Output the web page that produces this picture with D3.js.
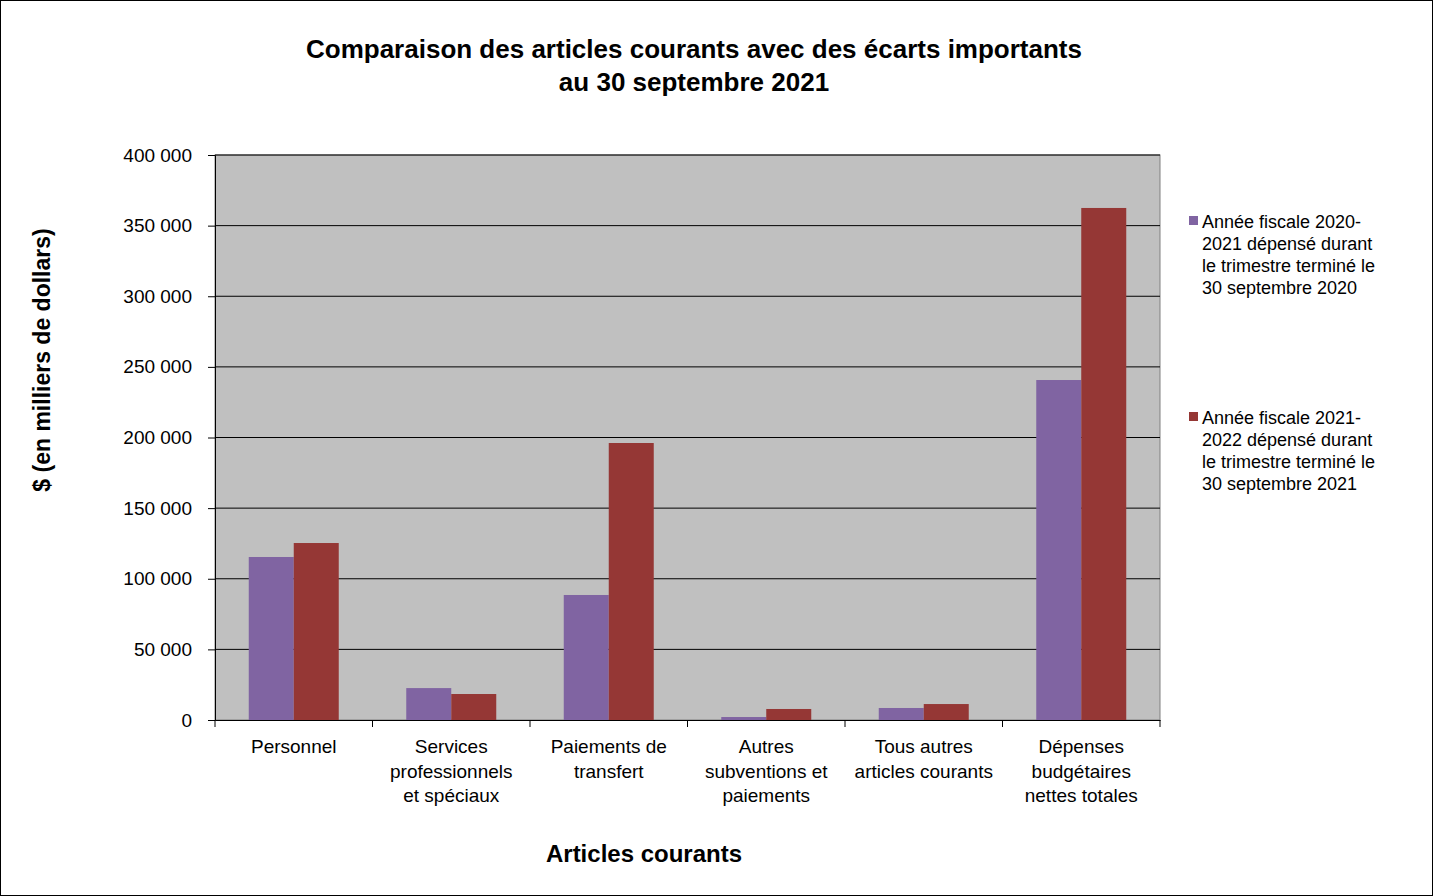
<!DOCTYPE html><html><head><meta charset="utf-8">
<script src="https://cdn.jsdelivr.net/npm/d3@7"></script>
<style>body{margin:0;background:#fff}svg{font-family:Arial,"Liberation Sans",sans-serif}</style></head><body>
<script>
const categories=[["Personnel"],["Services","professionnels","et spéciaux"],["Paiements de","transfert"],["Autres","subventions et","paiements"],["Tous autres","articles courants"],["Dépenses","budgétaires","nettes totales"]];
const series2020=[115400,22600,88500,2100,8500,240700];
const series2021=[125300,18400,196100,7800,11300,362500];
const seriesNames=[["Année fiscale 2020-","2021 dépensé durant","le trimestre terminé le","30 septembre 2020"],["Année fiscale 2021-","2022 dépensé durant","le trimestre terminé le","30 septembre 2021"]];
const yTicks=[0,50000,100000,150000,200000,250000,300000,350000,400000];
const colors=["#8064a2","#953735"];
const W=1433,H=896,L=215,R=1160,T=155,B=720;
const svg=d3.select("body").append("svg").attr("width",W).attr("height",H);
svg.append("rect").attr("x",0.5).attr("y",0.5).attr("width",W-1).attr("height",H-1).attr("fill","#fff").attr("stroke","#000");
svg.append("text").attr("x",694).attr("y",58).attr("text-anchor","middle").attr("font-size",26).attr("font-weight","bold").text("Comparaison des articles courants avec des écarts importants");
svg.append("text").attr("x",694).attr("y",91).attr("text-anchor","middle").attr("font-size",26).attr("font-weight","bold").text("au 30 septembre 2021");
const x=d3.scaleBand().domain(d3.range(6)).range([L,R]).paddingInner(0).paddingOuter(0);
const y=d3.scaleLinear().domain([0,400000]).range([B,T]);
svg.append("rect").attr("x",L).attr("y",T).attr("width",R-L).attr("height",B-T).attr("fill","#c0c0c0").attr("stroke","#808080");
svg.append("g").selectAll("line").data(yTicks.slice(1)).join("line").attr("x1",L).attr("x2",R).attr("y1",d=>y(d)).attr("y2",d=>y(d)).attr("stroke","#000");
const fmt=d=>d3.format(",")(d).replace(/,/g," ");
const ya=svg.append("g").attr("transform",`translate(${L},0)`).call(d3.axisLeft(y).tickValues(yTicks).tickSize(7).tickPadding(16).tickFormat(fmt));
ya.selectAll("text").attr("font-size",19).attr("font-family","Arial,'Liberation Sans',sans-serif").attr("fill","#000");
ya.select(".domain").attr("stroke","#000");
const bw=45;
[series2020,series2021].forEach((s,i)=>{
 svg.append("g").selectAll("rect").data(s).join("rect")
  .attr("x",(d,j)=>x(j)+x.bandwidth()/2-bw+i*bw).attr("width",bw)
  .attr("y",d=>y(d)).attr("height",d=>B-y(d)).attr("fill",colors[i]);
});
const xa=svg.append("g").attr("transform",`translate(0,${B})`).call(d3.axisBottom(x).tickSize(0).tickFormat(""));
xa.select(".domain").attr("stroke","#000");
svg.append("g").selectAll("line").data(d3.range(7)).join("line").attr("x1",d=>L+d*x.bandwidth()).attr("x2",d=>L+d*x.bandwidth()).attr("y1",B).attr("y2",B+7).attr("stroke","#000");
categories.forEach((c,j)=>{
 const t=svg.append("text").attr("text-anchor","middle").attr("font-size",19);
 c.forEach((ln,k)=>t.append("tspan").attr("x",x(j)+x.bandwidth()/2).attr("y",753+k*24.5).text(ln));
});
svg.append("text").attr("x",644).attr("y",862).attr("text-anchor","middle").attr("font-size",24).attr("font-weight","bold").text("Articles courants");
svg.append("text").attr("transform","translate(50,360) rotate(-90)").attr("text-anchor","middle").attr("font-size",23).attr("font-weight","bold").text("$ (en milliers de dollars)");
seriesNames.forEach((n,i)=>{
 const y0=228+i*196;
 svg.append("rect").attr("x",1189).attr("y",y0-12).attr("width",9).attr("height",9).attr("fill",colors[i]);
 const t=svg.append("text").attr("font-size",18);
 n.forEach((ln,k)=>t.append("tspan").attr("x",1202).attr("y",y0+k*22).text(ln));
});
</script></body></html>
